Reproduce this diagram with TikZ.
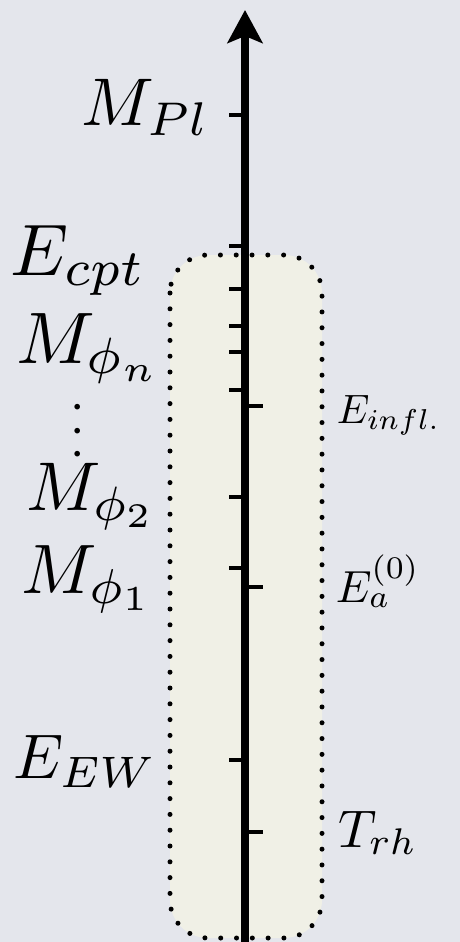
\documentclass[tikz,border=0pt]{standalone}
\usepackage{tikz}
\usetikzlibrary{arrows.meta}
\definecolor{bggray}{RGB}{228,230,236}
\definecolor{boxfill}{RGB}{240,240,230}

\begin{document}
\begin{tikzpicture}[x=1pt, y=-1pt,
  lbl/.style={inner sep=0pt, anchor=base east},
  rlbl/.style={inner sep=0pt, anchor=base west},
  tick/.style={line width=4.5pt},
  window/.style={fill=boxfill, rounded corners=38pt, line width=5pt,
    line cap=round, dash pattern=on 0pt off 15.8pt},
]
  \fill[bggray] (0,0) rectangle (460,942);
  \useasboundingbox (0,0) rectangle (460,942);

  % dotted window
  \draw[window] (170,255) rectangle (322,938);

  % energy axis
  \coordinate (low) at (245,942);
  \coordinate (high) at (245,10);
  \draw[line width=7.5pt, -{Stealth[length=33pt, width=35pt, inset=7pt]}] (low) -- (high);

  \foreach \y in {115,246,289,326,352,390,497,568,760}
    \draw[tick] (229,\y) -- (245,\y);
  \foreach \y in {406,587,832}
    \draw[tick] (245,\y) -- (263,\y);

  % scales on the left
  \node[lbl, scale=6.75] (mpl) at (211,125) {$M_{Pl}$};
  \node[lbl, scale=7.3] (ecpt) at (148,275) {$E_{cpt}$};
  \node[lbl, scale=7.3] (mphin) at (163,363) {$M_{\phi_n}$};
  \node[inner sep=0pt, rotate=90, scale=5.3] (dots) at (78,431) {$\ldotp\ldotp\ldotp$};
  \node[lbl, scale=6.9] (mphi2) at (158,510) {$M_{\phi_2}$};
  \node[lbl, scale=7.0] (mphi1) at (155,593) {$M_{\phi_1}$};
  \node[lbl, scale=6.3] (eew) at (158,778) {$E_{EW}$};

  % scales on the right
  \node[rlbl, scale=4.1] (einfl) at (336,423) {$E_{infl.}$};
  \node[rlbl, scale=4.5] (ea) at (335,602) {$E_a^{(0)}$};
  \node[rlbl, scale=5.3] (trh) at (337,847) {$T_{rh}$};
\end{tikzpicture}
\end{document}
